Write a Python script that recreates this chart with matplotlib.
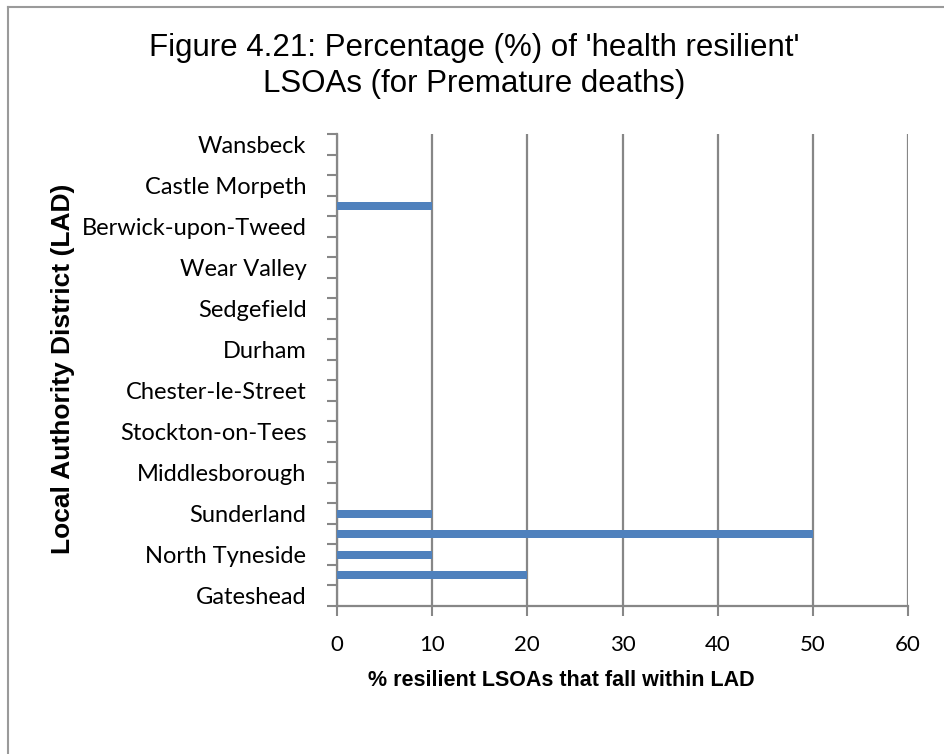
import numpy as np
import matplotlib
matplotlib.use("Agg")
import matplotlib.pyplot as plt
from matplotlib.lines import Line2D

# local authority districts, bottom to top
districts = [
    "Gateshead", "Newcastle upon Tyne", "North Tyneside", "South Tyneside",
    "Sunderland", "Hartlepool", "Middlesborough", "Redcar and Cleveland",
    "Stockton-on-Tees", "Darlington", "Chester-le-Street", "Derwentside",
    "Durham", "Easington", "Sedgefield", "Teesdale", "Wear Valley",
    "Alnwick", "Berwick-upon-Tweed", "Blyth Valley", "Castle Morpeth",
    "Tynedale", "Wansbeck",
]
pct_resilient = [
    0, 20, 10, 50, 10, 0, 0, 0, 0, 0, 0, 0,
    0, 0, 0, 0, 0, 0, 0, 10, 0, 0, 0,
]
x_ticks = [0, 10, 20, 30, 40, 50, 60]

grey = "#878787"
bar_blue = "#4F81BD"
label_font = ["Lato", "DejaVu Sans"]

fig = plt.figure(figsize=(9.44, 7.54), dpi=100)
ax = fig.add_axes([337 / 944, 1 - 606 / 754, 571 / 944, 472 / 754])

y = np.arange(len(districts))
ax.barh(y, pct_resilient, height=0.38, color=bar_blue, zorder=3)

ax.set_xlim(0, 60)
ax.set_ylim(-0.5, len(districts) - 0.5)

ax.set_xticks(x_ticks)
ax.set_xticklabels([str(t) for t in x_ticks], family=label_font, fontsize=16)
ax.set_yticks(y[::2])
ax.set_yticklabels(districts[::2], family=label_font, fontsize=17)
ax.set_yticks(np.arange(-0.5, len(districts), 1), minor=True)

ax.tick_params(axis="y", which="major", length=0, pad=22)
ax.tick_params(axis="y", which="minor", length=7, width=1.5, color=grey)
ax.tick_params(axis="x", length=7, width=1.5, color=grey, pad=14)

ax.grid(axis="x", color=grey, linewidth=1.6, zorder=0)
for side in ("top", "right"):
    ax.spines[side].set_visible(False)
for side in ("left", "bottom"):
    ax.spines[side].set_color(grey)
    ax.spines[side].set_linewidth(1.6)

fig.text(474 / 944, 1 - 66 / 754,
         "Figure 4.21: Percentage (%) of 'health resilient'\nLSOAs (for Premature deaths)",
         ha="center", va="center", fontsize=22.5, family="Liberation Sans",
         linespacing=1.22)
fig.text(561 / 944, 1 - 680 / 754, "% resilient LSOAs that fall within LAD",
         ha="center", va="center", fontsize=15.5, fontweight="bold",
         family="Liberation Sans")
fig.text(63 / 944, 1 - 369 / 754, "Local Authority District (LAD)",
         ha="center", va="center", rotation=90, fontsize=19, fontweight="bold",
         family="Liberation Sans")

# outer frame, top and left edges only
fig.add_artist(Line2D([8 / 944, 1], [1 - 7 / 754, 1 - 7 / 754],
                      transform=fig.transFigure, color="#9a9a9a", linewidth=1.5))
fig.add_artist(Line2D([8 / 944, 8 / 944], [0, 1 - 7 / 754],
                      transform=fig.transFigure, color="#9a9a9a", linewidth=1.5))

fig.savefig("out.png", dpi=100)
